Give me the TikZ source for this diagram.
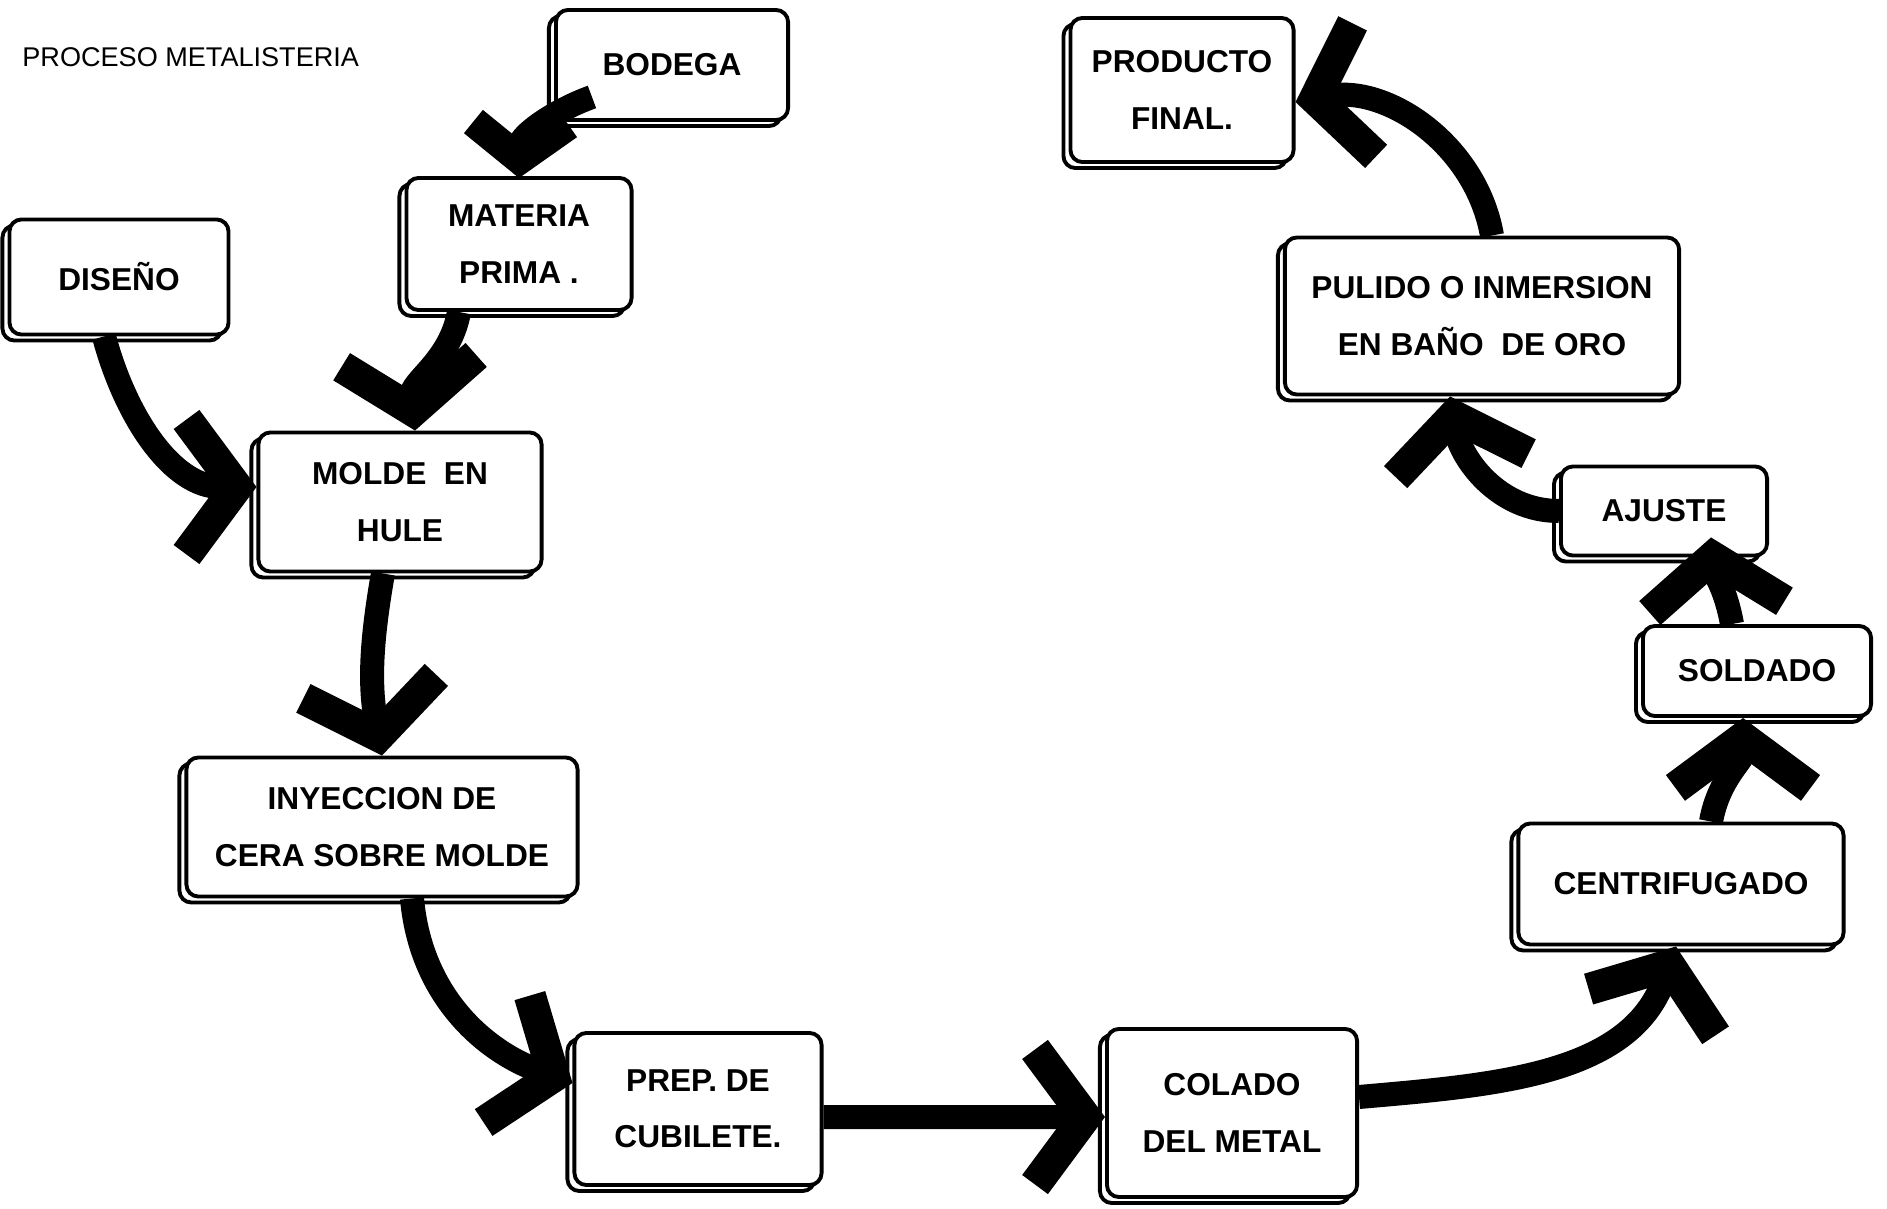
\documentclass[tikz,border=0pt]{standalone}
\usepackage{fontspec}
\setmainfont{Liberation Sans}
\usepackage{tikz}
\usetikzlibrary{arrows.meta, positioning, calc, shadows}

\begin{document}
\begin{tikzpicture}[
    x=0.01cm, y=0.01cm,
    stepbox/.style={rectangle, rounded corners=0.12cm, draw=black, line width=1.1pt, fill=white,
        copy shadow={shadow xshift=-0.07cm, shadow yshift=-0.06cm},
        align=center, font=\fontsize{9}{16}\selectfont\bfseries},
    ttl/.style={anchor=west, font=\fontsize{7.7}{9}\selectfont},
    arr/.style={line width=0.24cm, draw=black,
        -{Straight Barb[length=0.5cm, width=1.35cm, line width=0.32cm]}},
    arrsmall/.style={line width=0.24cm, draw=black,
        -{Straight Barb[length=0.36cm, width=0.95cm, line width=0.3cm]}},
]
\useasboundingbox (0,0) rectangle (1887,-1209);

\node[ttl] (title) at (10,-57) {PROCESO METALISTERIA};

\node[stepbox, minimum width=2.32cm, minimum height=1.10cm] (bod) at (672,-65) {BODEGA};
\node[stepbox, minimum width=2.25cm, minimum height=1.32cm] (mat) at (519,-244) {MATERIA\\PRIMA .};
\node[stepbox, minimum width=2.19cm, minimum height=1.15cm] (dis) at (119,-277) {DISEÑO};
\node[stepbox, minimum width=2.83cm, minimum height=1.39cm] (mol) at (400,-502) {MOLDE \ EN\\HULE};
\node[stepbox, minimum width=3.91cm, minimum height=1.39cm] (iny) at (382,-827) {INYECCION DE\\CERA SOBRE MOLDE};
\node[stepbox, minimum width=2.47cm, minimum height=1.52cm] (prep) at (698,-1109) {PREP. DE\\CUBILETE.};
\node[stepbox, minimum width=2.50cm, minimum height=1.68cm] (col) at (1232,-1113) {COLADO\\DEL METAL};
\node[stepbox, minimum width=3.25cm, minimum height=1.21cm] (cen) at (1681,-884) {CENTRIFUGADO};
\node[stepbox, minimum width=2.28cm, minimum height=0.90cm] (sol) at (1757,-671) {SOLDADO};
\node[stepbox, minimum width=2.06cm, minimum height=0.89cm] (aju) at (1664,-511) {AJUSTE};
\node[stepbox, minimum width=3.94cm, minimum height=1.57cm] (pul) at (1482,-316) {PULIDO O INMERSION\\EN BAÑO \ DE ORO};
\node[stepbox, minimum width=2.23cm, minimum height=1.44cm] (prod) at (1182,-90) {PRODUCTO\\FINAL.};

\draw[arrsmall] ([xshift=-0.8cm, yshift=0.25cm]bod.south) to[out=200, in=88] ([yshift=-0.02cm]mat.north);
\draw[arr] ([xshift=-0.6cm]mat.south) to[out=260, in=95] ([xshift=0.15cm]mol.north);
\draw[arr] ([xshift=-0.15cm]dis.south) to[out=-75, in=180] ([yshift=0.15cm]mol.west);
\draw[arr] ([xshift=-0.17cm]mol.south) to[out=260, in=100] (iny.north);
\draw[arr] ([xshift=0.3cm]iny.south) to[out=-85, in=160] ([yshift=0.26cm]prep.west);
\draw[arr] ([yshift=-0.08cm]prep.east) -- ([yshift=-0.04cm]col.west);
\draw[arr] ([yshift=0.16cm]col.east) to[out=5, in=250] ([xshift=-0.05cm]cen.south);
\draw[arr] ([xshift=0.3cm]cen.north) to[out=80, in=270] ([xshift=-0.14cm]sol.south);
\draw[arr] ([xshift=-0.25cm]sol.north) to[out=100, in=275] ([xshift=0.47cm, yshift=0.2cm]aju.south);
\draw[arr] (aju.west) to[out=180, in=280] ([xshift=-0.32cm]pul.south);
\draw[arr] ([xshift=0.1cm]pul.north) to[out=100, in=10] ([yshift=-0.12cm]prod.east);
\end{tikzpicture}
\end{document}
